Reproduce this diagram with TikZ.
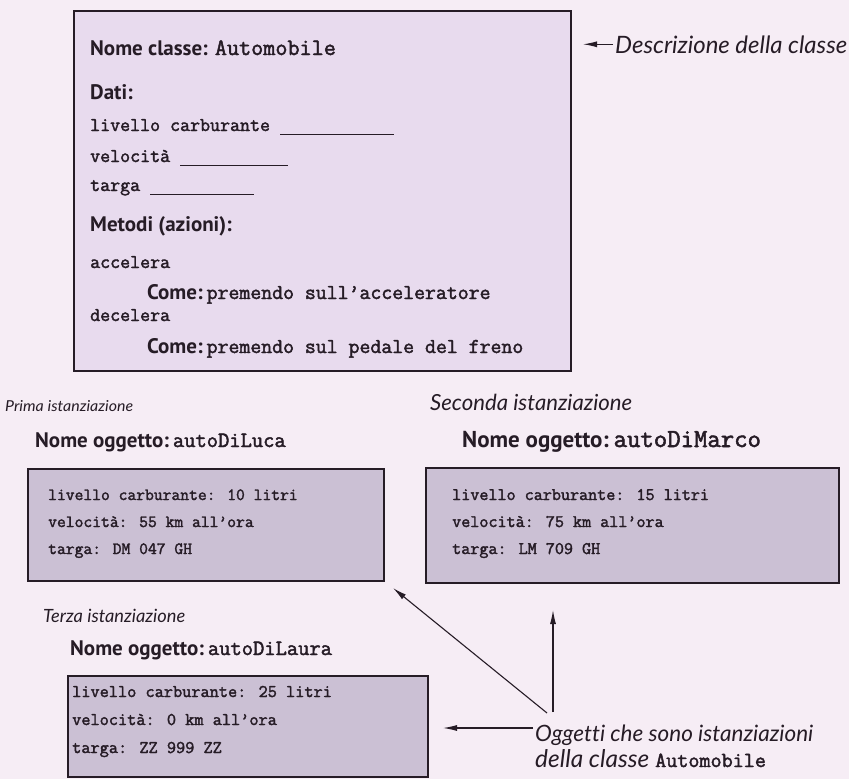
\documentclass[tikz,border=0pt]{standalone}
\usepackage{fontspec}
\usepackage{graphicx}
\setmainfont{PT Sans}
\newfontfamily\capfont{Lato}[Ligatures=NoCommon]
\newfontfamily\tyfont{Latin Modern Mono}[FakeBold=2]
\usetikzlibrary{arrows.meta}

\definecolor{pagebg}{RGB}{246,237,245}
\definecolor{classfill}{RGB}{232,219,238}
\definecolor{objfill}{RGB}{203,192,212}
\definecolor{ink}{RGB}{38,28,38}

\newcommand\hd[2][21]{{\fontsize{#1}{#1}\selectfont\bfseries #2}}
\newcommand\cd[2]{{\tyfont\fontsize{#1}{#1}\selectfont #2}}
\newcommand\capt[2]{\resizebox{#1}{!}{\capfont\itshape #2}}

\tikzset{
  txt/.style={anchor=base west, inner sep=0pt, text=ink},
  classbox/.style={draw=ink, line width=1.8pt, fill=classfill, anchor=north west, inner sep=0pt},
  objbox/.style={draw=ink, line width=2.2pt, fill=objfill, anchor=north west, inner sep=0pt},
  pointer/.style={draw=ink, line width=1.1pt, -{Latex[length=14pt,width=6pt]}},
}

\begin{document}
\begin{tikzpicture}[x=1pt,y=-1pt]
\useasboundingbox (0,0) rectangle (849,779);
\fill[pagebg] (0,0) rectangle (849,779);

% ---- class description ----
\node[classbox, minimum width=497pt, minimum height=360pt] (cls) at (73,10) {};
\node[txt] (clsname) at (90,55) {\hd{Nome classe:}\hspace{7pt}\cd{23.5}{Automobile}};
\node[txt] (dati) at (90,99) {\hd{Dati:}};
\node[txt] (fuel) at (90,131) {\cd{19.4}{livello carburante}\hspace{10pt}\rule[-4pt]{114pt}{1.3pt}};
\node[txt] (speed) at (90,162) {\cd{19.4}{velocità}\hspace{10pt}\rule[-4pt]{108pt}{1.3pt}};
\node[txt] (plate) at (90,191) {\cd{19.4}{targa}\hspace{10pt}\rule[-4pt]{104pt}{1.3pt}};
\node[txt] (metodi) at (90,231) {\hd{Metodi (azioni):}};
\node[txt] (acc) at (90,268) {\cd{19.4}{accelera}};
\node[txt] (acchow) at (147,299) {\hd{Come:}\hspace{4pt}\cd{21.2}{premendo sull’acceleratore}};
\node[txt] (dec) at (90,321) {\cd{19.4}{decelera}};
\node[txt] (dechow) at (147,353) {\hd{Come:}\hspace{4pt}\cd{21.2}{premendo sul pedale del freno}};

\node[txt] (desc) at (615,53) {\capt{232pt}{Descrizione della classe}};
\coordinate (descTip) at (583,47);
\draw[pointer, shorten <=2pt] (desc.west) -- (desc.west -| descTip);

% ---- first object ----
\node[txt] (cap1) at (5,411) {\resizebox{128pt}{11pt}{\capfont\itshape Prima istanziazione}};
\node[txt] (name1) at (35,447) {\hd{Nome oggetto:}\hspace{4pt}\cd{21.9}{autoDiLuca}};
\node[objbox, minimum width=356pt, minimum height=112pt] (obj1) at (27,468) {};
\node[txt] (o1a) at (48,500) {\cd{17.1}{livello carburante: 10 litri}};
\node[txt] (o1b) at (48,527) {\cd{17.1}{velocità: 55 km all’ora}};
\node[txt] (o1c) at (48,554) {\cd{17.1}{targa: DM 047 GH}};

% ---- second object ----
\node[txt] (cap2) at (430,410) {\capt{202pt}{Seconda istanziazione}};
\node[txt] (name2) at (462,447) {\hd[23]{Nome oggetto:}\hspace{5pt}\cd{26}{autoDiMarco}};
\node[objbox, minimum width=413pt, minimum height=115pt] (obj2) at (425,467) {};
\node[txt] (o2a) at (452,500) {\cd{17.6}{livello carburante: 15 litri}};
\node[txt] (o2b) at (452,527) {\cd{17.6}{velocità: 75 km all’ora}};
\node[txt] (o2c) at (452,554) {\cd{17.6}{targa: LM 709 GH}};

% ---- third object ----
\node[txt] (cap3) at (43,622) {\capt{142pt}{Terza istanziazione}};
\node[txt] (name3) at (70,655) {\hd{Nome oggetto:}\hspace{4pt}\cd{21.9}{autoDiLaura}};
\node[objbox, minimum width=360pt, minimum height=101pt] (obj3) at (67,675) {};
\node[txt] (o3a) at (72,697) {\cd{17.8}{livello carburante: 25 litri}};
\node[txt] (o3b) at (72,725) {\cd{17.8}{velocità: 0 km all’ora}};
\node[txt] (o3c) at (72,753) {\cd{17.8}{targa: ZZ 999 ZZ}};

% ---- note pointing at the three objects ----
\node[txt] (note1) at (535,741) {\capt{278pt}{Oggetti che sono istanziazioni}};
\node[txt] (note2) at (535,767) {\capt{114pt}{della classe}\hspace{6pt}\cd{21.5}{Automobile}};
\coordinate (tipA) at (393,588);
\coordinate (tipB) at (553,610);
\coordinate (tipC) at (443,728);
\draw[pointer] ([shift={(12,-28)}]note1.base west) -- (tipA);
\draw[pointer] ([shift={(18,-29)}]note1.base west) -- (tipB);
\draw[pointer] ([shift={(-2,-13)}]note1.base west) -- (tipC);
\end{tikzpicture}
\end{document}
